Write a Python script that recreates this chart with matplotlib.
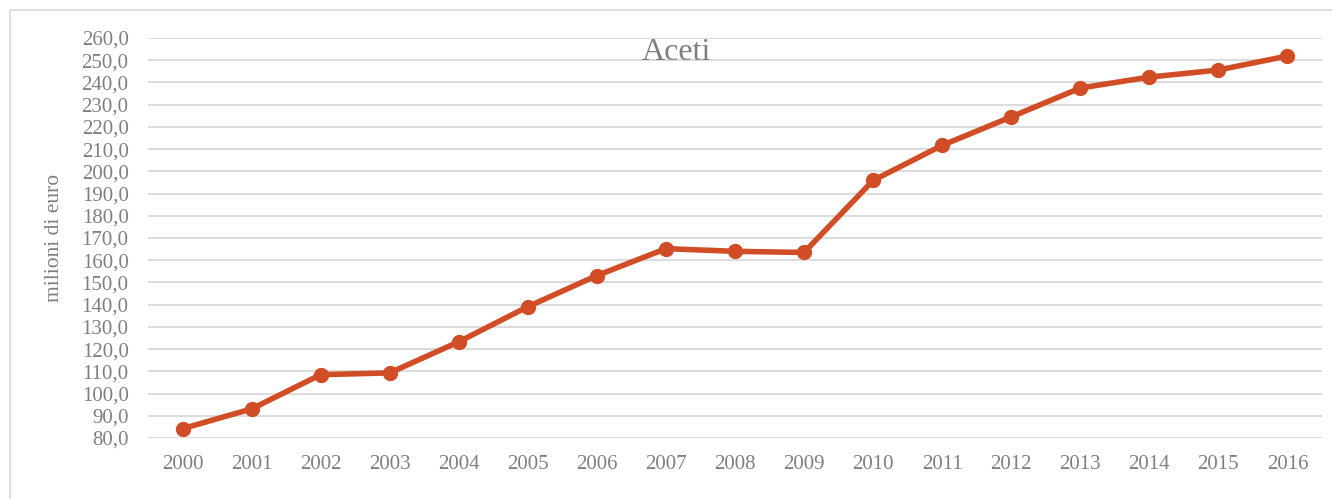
import matplotlib.pyplot as plt
from matplotlib.patches import Rectangle

# dati (milioni di euro)
anni = ['2000', '2001', '2002', '2003', '2004', '2005', '2006', '2007', '2008',
        '2009', '2010', '2011', '2012', '2013', '2014', '2015', '2016']
valori = [84.2, 93.1, 108.5, 109.3, 123.3, 139.1, 153.1, 165.2, 164.0,
          163.5, 195.9, 211.7, 224.5, 237.5, 242.4, 245.6, 251.9]
y_ticks = list(range(80, 261, 10))

grigio = '#7f7f7f'
colore = '#d14d26'
plt.rcParams['font.family'] = ['Liberation Serif', 'DejaVu Serif']

fig = plt.figure(figsize=(13.32, 4.99), dpi=100)
W, H = 1332, 499

# cornice esterna dell'area grafico
fig.patches.append(Rectangle((10 / W, -0.1), 1.2, (H - 10) / H + 0.1,
                             transform=fig.transFigure, fill=False,
                             edgecolor='#d9d9d9', linewidth=1.2))

ax = fig.add_axes([148 / W, (H - 438) / H, (1322 - 148) / W, 400 / H])
x = list(range(len(anni)))
ax.plot(x, valori, color=colore, linewidth=4, marker='o', markersize=10,
        solid_capstyle='round', zorder=3)

ax.set_xlim(-0.5, len(anni) - 0.5)
ax.set_ylim(80, 260)
ax.set_yticks(y_ticks)
ax.set_yticklabels([f'{v},0' for v in y_ticks])
ax.set_xticks(x)
ax.set_xticklabels(anni)
ax.grid(axis='y', color='#d9d9d9', linewidth=1.3)
ax.set_axisbelow(True)
for s in ax.spines.values():
    s.set_visible(False)
ax.tick_params(axis='both', length=0, labelcolor=grigio, labelsize=15)
ax.tick_params(axis='y', pad=14)
ax.tick_params(axis='x', pad=12)

ax.set_ylabel('milioni di euro', color=grigio, fontsize=15.5)
ax.yaxis.set_label_coords(-(148 - 64) / (1322 - 148), 0.5)

fig.text(676 / W, (H - 60) / H, 'Aceti', color=grigio, fontsize=23,
         ha='center', va='baseline')

fig.savefig('out.png', dpi=100, facecolor='white')
